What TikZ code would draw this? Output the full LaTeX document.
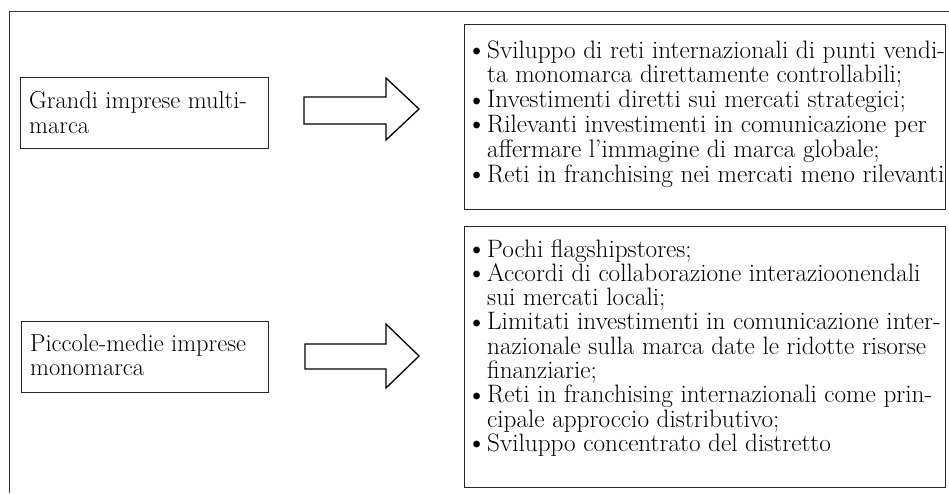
\documentclass[tikz,border=0pt]{standalone}
\begin{document}
\begin{tikzpicture}[x=1pt,y=-1pt,
  frame/.style={draw=black!80, line width=0.8pt},
  box/.style={draw=black!85, line width=0.9pt, inner sep=0pt, anchor=north west},
  blockarrow/.style={draw=black, line width=1.3pt, line join=miter},
  ltxt/.style={font=\fontsize{24.5}{24.8}\selectfont, inner sep=0pt, anchor=base west},
  rtxt/.style={font=\fontsize{25.2}{24.8}\selectfont, inner sep=0pt, anchor=base west},
  rtxtb/.style={font=\fontsize{25.2}{24.3}\selectfont, inner sep=0pt, anchor=base west}
]
\useasboundingbox (0,0) rectangle (949,493);
\def\bul{\hbox to 14pt{\hbox to 7pt{\hss\raisebox{-1.5pt}{\fontsize{30}{30}\selectfont\textbullet}\hss}\hss}}
\def\ind{\kern14pt\relax}
% outer frame
\draw[frame] (949,11.5) -- (9.5,11.5) -- (9.5,493);
% left boxes
\node[box, minimum width=248.5pt, minimum height=71pt] (g) at (19.5,77) {};
\node[ltxt] (gt) at (29,108.5) {\vtop{\hbox{Grandi imprese multi-}\hbox{marca}}};
\node[box, minimum width=247pt, minimum height=70.5pt] (p) at (21,321) {};
\node[ltxt] (pt) at (30,351) {\vtop{\hbox{Piccole-medie imprese}\hbox{monomarca}}};
% right boxes
\node[box, minimum width=481pt, minimum height=185pt] (r1) at (464,24) {};
\node[rtxt] (r1t) at (473,58) {\vtop{%
\hbox{\bul Sviluppo di reti internazionali di punti vendi-}
\hbox{\ind ta monomarca direttamente controllabili;}
\hbox{\bul Investimenti diretti sui mercati strategici;}
\hbox{\bul Rilevanti investimenti in comunicazione per}
\hbox{\ind affermare l’immagine di marca globale;}
\hbox{\bul Reti in franchising nei mercati meno rilevanti}}};
\node[box, minimum width=481pt, minimum height=261pt] (r2) at (464,226) {};
\node[rtxtb] (r2t) at (473,257) {\vtop{%
\hbox{\bul Pochi flagshipstores;}
\hbox{\bul Accordi di collaborazione interazioonendali}
\hbox{\ind sui mercati locali;}
\hbox{\bul Limitati investimenti in comunicazione inter-}
\hbox{\ind nazionale sulla marca date le ridotte risorse}
\hbox{\ind finanziarie;}
\hbox{\bul Reti in franchising internazionali come prin-}
\hbox{\ind cipale approccio distributivo;}
\hbox{\bul Sviluppo concentrato del distretto}}};
% block arrows
\draw[blockarrow] (304,97) -- (386,97) -- (386,78) -- (419,109) -- (386,140) -- (386,124) -- (304,124) -- cycle;
\draw[blockarrow] (305,344) -- (386,344) -- (386,324) -- (419,356) -- (386,388) -- (386,369) -- (305,369) -- cycle;
\end{tikzpicture}
\end{document}
